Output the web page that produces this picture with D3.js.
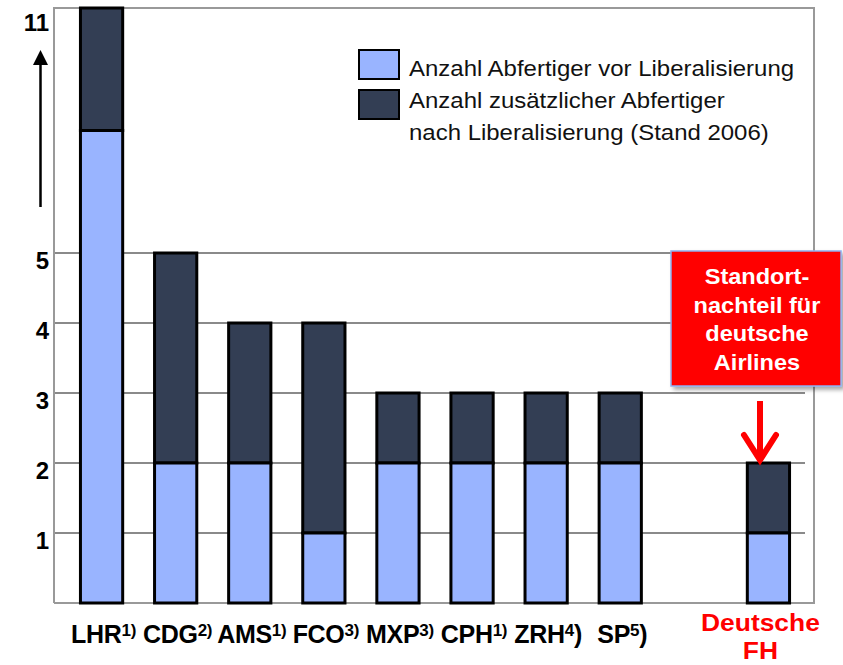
<!DOCTYPE html>
<html><head><meta charset="utf-8">
<script src="https://cdn.jsdelivr.net/npm/d3@7"></script>
<style>body{margin:0;background:#fff}svg{display:block;font-family:"Liberation Sans",Arial,sans-serif}</style>
</head><body><svg id="c" width="843" height="665"></svg>
<script>
// ---- data ----
const categories = ["LHR","CDG","AMS","FCO","MXP","CPH","ZRH","SP","Deutsche FH"];
const supTexts   = ["1)","2)","1)","3)","3)","1)","4","5",""];
const afterSup   = ["","","","","","",")",")",""];
const beforeLib  = [8,2,2,1,2,2,2,2,1];
const addedLib   = [3,3,2,3,1,1,1,1,1];
const yTicks     = [1,2,3,4,5,11];
const legendLabels = [["Anzahl Abfertiger vor Liberalisierung"],["Anzahl zusätzlicher Abfertiger","nach Liberalisierung (Stand 2006)"]];
const calloutLines = ["Standort-","nachteil für","deutsche","Airlines"];
const highlightLines = ["Deutsche","FH"];
const colors = {before:"#99B4FF", added:"#333E54"};

const svg = d3.select("#c");
const frame = {l:54, r:814, t:8, b:603};

// band scale with a spacer slot before Deutsche FH
const slots = [...categories.slice(0,8), "_gap", "Deutsche FH"];
const x = d3.scaleBand().domain(slots).range([frame.l+2, frame.r]).paddingInner(0.43).paddingOuter(0.33);
// broken (piecewise) value axis: 0–5 stretched, 5–11 compressed
const y = d3.scaleLinear().domain([0,5,11]).range([frame.b, 253, frame.t]);

// gridlines
svg.append("g").selectAll("line").data(yTicks.filter(t=>t<11)).join("line")
  .attr("x1",frame.l).attr("x2",805).attr("y1",d=>y(d)).attr("y2",d=>y(d))
  .attr("stroke","#8a8a8a").attr("stroke-width",2);
// frame
svg.append("path").attr("d",`M${frame.l},${frame.b}V${frame.t}H${frame.r}V${frame.b}H${frame.l}`)
  .attr("fill","none").attr("stroke","#999").attr("stroke-width",2);

// y tick labels
svg.append("g").selectAll("text").data(yTicks).join("text")
  .attr("x",49).attr("y",d=>y(d)+ (d===11?23:16)).attr("text-anchor","end")
  .attr("font-size",24).attr("font-weight","bold").attr("fill","#000").text(d=>d);

// up arrow on the axis
svg.append("line").attr("x1",40.5).attr("x2",40.5).attr("y1",207).attr("y2",62).attr("stroke","#000").attr("stroke-width",2.5);
svg.append("path").attr("d","M40.5,50L33,65H48Z").attr("fill","#000");

// bars
const rows = categories.map((c,i)=>({c, b:beforeLib[i], a:addedLib[i]}));
const g = svg.append("g");
g.selectAll("rect.add").data(rows).join("rect").attr("class","add")
  .attr("x",d=>x(d.c)).attr("width",x.bandwidth())
  .attr("y",d=>y(d.b+d.a)).attr("height",d=>y(d.b)-y(d.b+d.a))
  .attr("fill",colors.added).attr("stroke","#000").attr("stroke-width",3);
g.selectAll("rect.bef").data(rows).join("rect").attr("class","bef")
  .attr("x",d=>x(d.c)).attr("width",x.bandwidth())
  .attr("y",d=>y(d.b)).attr("height",d=>y(0)-y(d.b))
  .attr("fill",colors.before).attr("stroke","#000").attr("stroke-width",3);

// x labels
categories.forEach((c,i)=>{
  const cx = x(c)+x.bandwidth()/2;
  if(c==="Deutsche FH"){
    const t = svg.append("text").attr("text-anchor","middle").attr("font-size",24).attr("font-weight","bold").attr("fill","#ff0000")
      .attr("transform",`translate(${cx-8},0) scale(1.1,1)`);
    highlightLines.forEach((s,j)=> t.append("tspan").attr("x",0).attr("y",631+j*28).text(s));
    return;
  }
  const t = svg.append("text").attr("x",cx+2).attr("y",643).attr("text-anchor","middle")
    .attr("font-size",25).attr("font-weight","bold").attr("fill","#000").attr("letter-spacing",-0.3);
  t.append("tspan").text(c);
  t.append("tspan").attr("font-size",17).attr("dy",-7).text(supTexts[i]);
  if(afterSup[i]) t.append("tspan").attr("font-size",25).attr("dy",7).text(afterSup[i]);
});

// legend
const lg = svg.append("g");
[colors.before, colors.added].forEach((col,i)=>{
  lg.append("rect").attr("x",359).attr("y",50+i*40).attr("width",40).attr("height",29)
    .attr("fill",col).attr("stroke","#000").attr("stroke-width",2);
  legendLabels[i].forEach((s,j)=>{
    lg.append("text").attr("transform",`translate(409,${76+i*32+j*32}) scale(1.09,1)`)
      .attr("font-size",22).attr("fill","#111").text(s);
  });
});

// callout box
const defs = svg.append("defs");
const f = defs.append("filter").attr("id","sh").attr("x","-10%").attr("y","-10%").attr("width","130%").attr("height","130%");
f.append("feDropShadow").attr("dx",3).attr("dy",3).attr("stdDeviation",2).attr("flood-color","#000").attr("flood-opacity",0.35);
svg.append("rect").attr("x",671).attr("y",251).attr("width",170).attr("height",135)
  .attr("fill","#ff0000").attr("stroke","#8fb0f0").attr("stroke-width",1.5).attr("filter","url(#sh)");
svg.append("g").selectAll("text").data(calloutLines).join("text")
  .attr("transform",(d,i)=>`translate(757,${284+i*28.5}) scale(1.07,1)`).attr("text-anchor","middle")
  .attr("font-size",22).attr("font-weight","bold").attr("fill","#fff").text(d=>d);

// red down arrow
svg.append("line").attr("x1",760).attr("x2",760).attr("y1",401).attr("y2",460).attr("stroke","#ff0000").attr("stroke-width",6);
svg.append("path").attr("d","M744,435L760,460L776,435").attr("fill","none").attr("stroke","#ff0000").attr("stroke-width",6).attr("stroke-linecap","round").attr("stroke-linejoin","miter");
</script></body></html>
